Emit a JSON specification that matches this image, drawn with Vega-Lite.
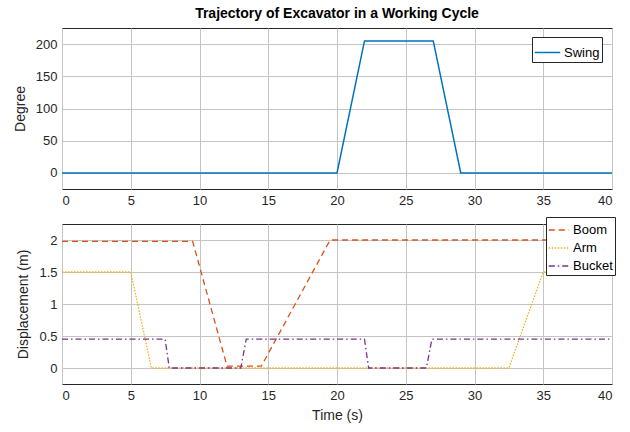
{
  "$schema": "https://vega.github.io/schema/vega-lite/v6.json",
  "background": "white",
  "padding": {"left": 12, "top": 6, "right": 5, "bottom": 5},
  "spacing": 8,
  "config": {
    "font": "Liberation Sans",
    "view": {"stroke": "#262626", "strokeWidth": 1},
    "axis": {
      "labelFont": "Liberation Sans", "labelFontSize": 13, "labelColor": "#262626",
      "titleFont": "Liberation Sans", "titleFontSize": 14, "titleColor": "#262626", "titleFontWeight": "normal",
      "gridColor": "#c4c4c4", "gridWidth": 1, "domain": false, "ticks": false, "labelPadding": 5
    },
    "legend": {
      "labelFont": "Liberation Sans", "labelFontSize": 13, "labelColor": "#000000",
      "strokeColor": "#262626", "fillColor": "white", "padding": 2, "symbolType": "stroke",
      "symbolSize": 650, "symbolStrokeWidth": 1.5, "rowPadding": -7, "labelOffset": 3, "title": null
    }
  },
  "datasets": {
    "swing": [
      {"t": 0, "v": 0, "s": "Swing"},
      {"t": 20, "v": 0, "s": "Swing"},
      {"t": 22, "v": 205, "s": "Swing"},
      {"t": 27, "v": 205, "s": "Swing"},
      {"t": 29, "v": 0, "s": "Swing"},
      {"t": 40, "v": 0, "s": "Swing"}
    ],
    "disp": [
      {"t": 0, "v": 1.98, "s": "Boom"},
      {"t": 9.5, "v": 1.98, "s": "Boom"},
      {"t": 12, "v": 0.03, "s": "Boom"},
      {"t": 14.5, "v": 0.03, "s": "Boom"},
      {"t": 19.5, "v": 2.0, "s": "Boom"},
      {"t": 40, "v": 2.0, "s": "Boom"},
      {"t": 0, "v": 1.5, "s": "Arm"},
      {"t": 5, "v": 1.5, "s": "Arm"},
      {"t": 6.5, "v": 0, "s": "Arm"},
      {"t": 32.5, "v": 0, "s": "Arm"},
      {"t": 35, "v": 1.5, "s": "Arm"},
      {"t": 40, "v": 1.5, "s": "Arm"},
      {"t": 0, "v": 0.45, "s": "Bucket"},
      {"t": 7.5, "v": 0.45, "s": "Bucket"},
      {"t": 7.8, "v": 0, "s": "Bucket"},
      {"t": 13, "v": 0, "s": "Bucket"},
      {"t": 13.4, "v": 0.45, "s": "Bucket"},
      {"t": 22, "v": 0.45, "s": "Bucket"},
      {"t": 22.3, "v": 0, "s": "Bucket"},
      {"t": 26.5, "v": 0, "s": "Bucket"},
      {"t": 26.9, "v": 0.45, "s": "Bucket"},
      {"t": 40, "v": 0.45, "s": "Bucket"}
    ]
  },
  "vconcat": [
    {
      "width": 550,
      "height": 161,
      "title": {"text": "Trajectory of Excavator in a Working Cycle", "font": "Liberation Sans", "fontSize": 14, "fontWeight": "bold", "color": "#000000", "offset": 7},
      "data": {"name": "swing"},
      "mark": {"type": "line", "strokeWidth": 1.5, "clip": true},
      "encoding": {
        "x": {"field": "t", "type": "quantitative", "scale": {"domain": [0, 40], "nice": false}, "axis": {"values": [0,5,10,15,20,25,30,35,40], "title": null}},
        "y": {"field": "v", "type": "quantitative", "scale": {"domain": [-25, 225], "nice": false}, "axis": {"values": [0,50,100,150,200], "title": "Degree", "titlePadding": 8}},
        "color": {"field": "s", "type": "nominal", "scale": {"domain": ["Swing"], "range": ["#0072BD"]},
          "legend": {"orient": "none", "legendX": 470, "legendY": 9}}
      }
    },
    {
      "width": 550,
      "height": 160,
      "data": {"name": "disp"},
      "mark": {"type": "line", "strokeWidth": 1.3, "clip": true},
      "encoding": {
        "x": {"field": "t", "type": "quantitative", "scale": {"domain": [0, 40], "nice": false}, "axis": {"values": [0,5,10,15,20,25,30,35,40], "title": "Time (s)", "titlePadding": 6}},
        "y": {"field": "v", "type": "quantitative", "scale": {"domain": [-0.25, 2.25], "nice": false}, "axis": {"values": [0,0.5,1,1.5,2], "format": "~g", "title": "Displacement (m)", "titlePadding": 8}},
        "color": {"field": "s", "type": "nominal", "scale": {"domain": ["Boom", "Arm", "Bucket"], "range": ["#D95319", "#EDB120", "#7E2F8E"]},
          "legend": {"orient": "none", "legendX": 484, "legendY": -7, "symbolSize": 420, "rowPadding": 0}},
        "strokeDash": {"field": "s", "type": "nominal", "scale": {"domain": ["Boom", "Arm", "Bucket"], "range": [[6, 4], [1.5, 1.5], [6, 3, 1.5, 3]]},
          "legend": {"orient": "none", "legendX": 484, "legendY": -7, "symbolSize": 420, "rowPadding": 0}}
      }
    }
  ],
  "resolve": {
    "scale": {"color": "independent", "strokeDash": "independent", "x": "independent", "y": "independent"},
    "legend": {"color": "independent", "strokeDash": "independent"}
  }
}
